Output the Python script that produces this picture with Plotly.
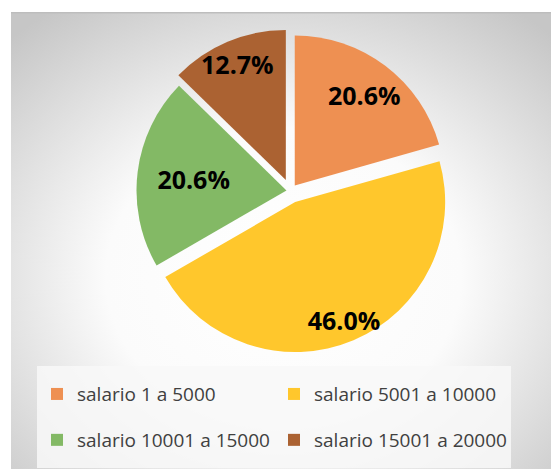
import base64
import plotly.graph_objects as go

categories = ["salario 1 a 5000", "salario 5001 a 10000", "salario 10001 a 15000", "salario 15001 a 20000"]
shares = [20.6, 46.0, 20.6, 12.7]
colors = ["#EE9052", "#FFC72C", "#83B965", "#AB6232"]
explode = [0.047, 0.08, 0.027, 0.08]

W, H = 559, 469
OX, OY = 8, 8  # page body offset of the figure inside the window
LABEL_SIZE = 25


def px_x(x):
    return (x - OX) / W


def px_y(y):
    return 1 - (y - OY) / H


svg = (
    '<svg xmlns="http://www.w3.org/2000/svg" width="556" height="465" viewBox="0 0 556 465" preserveAspectRatio="none">'
    '<defs><radialGradient id="g" cx="49%" cy="57%" r="71%">'
    '<stop offset="0" stop-color="#ffffff"/>'
    '<stop offset="0.45" stop-color="#fbfbfb"/>'
    '<stop offset="1" stop-color="#c6c6c6"/>'
    '</radialGradient></defs>'
    '<rect width="556" height="465" fill="url(#g)"/>'
    '<rect width="556" height="1.5" fill="#bdbdbd"/>'
    '</svg>'
)
bg_src = "data:image/svg+xml;base64," + base64.b64encode(svg.encode()).decode()

legend_names = [
    '<span style="font-size:19px;baseline-shift:6px">' + c + '</span>' for c in categories
]

# label layout (blank lines / spaces nudge the text inside its slice)
NB = "&nbsp;"
label_templates = [
    NB * 4 + "%{percent:.1%}<br>" + NB,
    NB + "<br>" + NB + "<br>" + NB + "<br>" + NB * 6 + "%{percent:.1%}",
    "%{percent:.1%}",
    "%{percent:.1%}" + NB * 2 + "<br>" + NB,
]

fig = go.Figure(
    go.Pie(
        labels=legend_names,
        values=shares,
        sort=False,
        direction="clockwise",
        rotation=0,
        pull=explode,
        marker=dict(colors=colors, line=dict(width=0)),
        texttemplate=label_templates,
        textposition="inside",
        insidetextorientation="horizontal",
        textfont=dict(family="Open Sans", size=LABEL_SIZE, color="#000000", weight="bold"),
        hoverinfo="skip",
        domain=dict(x=[px_x(128.5), px_x(452.5)], y=[px_y(353), px_y(29)]),
    )
)

fig.update_layout(
    width=W,
    height=H,
    margin=dict(l=0, r=0, t=0, b=0),
    paper_bgcolor="#ffffff",
    plot_bgcolor="#ffffff",
    uniformtext=dict(minsize=LABEL_SIZE, mode="show"),
    images=[
        dict(
            source=bg_src,
            xref="paper", yref="paper",
            x=px_x(11), y=px_y(12),
            sizex=1 - px_x(11), sizey=px_y(12),
            xanchor="left", yanchor="top",
            sizing="stretch", layer="below",
        )
    ],
    legend=dict(
        orientation="h",
        x=px_x(37), xanchor="left",
        y=px_y(366), yanchor="top",
        entrywidth=192, entrywidthmode="pixels",
        font=dict(family="Open Sans", size=33, color="#404040"),
        bgcolor="rgba(248,248,248,0.85)",
        borderwidth=0,
        traceorder="normal",
    ),
)

fig.write_html("out.html")
